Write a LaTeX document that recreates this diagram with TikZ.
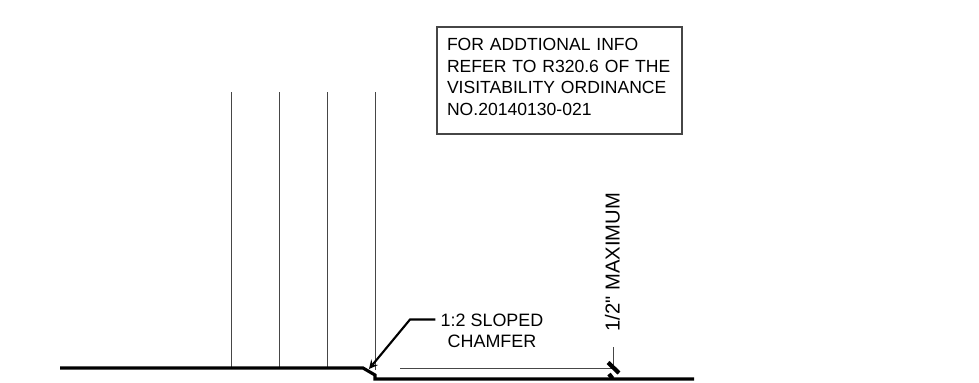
\documentclass[tikz,border=0pt]{standalone}
\usepackage{fontspec}
\setmainfont{Liberation Sans}
\newfontfamily\dimfont{Liberation Sans}
\definecolor{white}{rgb}{1.0, 1.0, 1.0}
\definecolor{black}{rgb}{0.0, 0.0, 0.0}
\definecolor{thingrey}{RGB}{70,70,70}
\pgfdeclarelayer{edgelayer}
\pgfdeclarelayer{nodelayer}
\pgfsetlayers{edgelayer,nodelayer,main}
\tikzstyle{note}=[draw=thingrey,line width=0.6pt,fill=white,align=left,text width=4.5cm,minimum height=2.14cm,inner xsep=0.2cm,inner ysep=0pt,font=\fontsize{10pt}{12.25pt}\selectfont]
\tikzstyle{callout}=[inner xsep=0.1cm,inner ysep=0pt,align=center,font=\fontsize{10.2pt}{12.25pt}\selectfont]
\tikzstyle{thin line}=[draw=thingrey,line width=0.5pt]
\tikzstyle{slab}=[draw=black,line width=1.8pt,line join=miter]
\tikzstyle{tick}=[draw=black,line width=2.4pt]
\tikzstyle{leader}=[draw=black,line width=1.2pt]
\begin{document}
\begin{tikzpicture}
        \useasboundingbox (0, 0) rectangle (19.58, 7.64);
        \begin{pgfonlayer}{nodelayer}
            \node [style = note] (info) at (11.19, 6.03) {FOR ADDTIONAL INFO\\REFER TO R320.6 OF THE\\VISITABILITY ORDINANCE\\NO.20140130-021\\[-0.29cm]\mbox{}};
            \node [style = callout] (chamfer) at (9.84, 1.02) {1:2 SLOPED\\CHAMFER};
            \node [style = callout, rotate=90, font=\fontsize{11.5pt}{13pt}\dimfont] (maximum) at (12.25, 2.40) {1/2" MAXIMUM};
        \end{pgfonlayer}

        \begin{pgfonlayer}{edgelayer}
            % studs
            \coordinate (s1t) at (4.62, 5.80);
            \coordinate (s1b) at (4.62, 0.28);
            \coordinate (s2t) at (5.58, 5.80);
            \coordinate (s2b) at (5.58, 0.28);
            \coordinate (s3t) at (6.54, 5.80);
            \coordinate (s3b) at (6.54, 0.28);
            \coordinate (s4t) at (7.50, 5.80);
            \coordinate (s4b) at (7.50, 0.24);
            \draw [style = thin line] (s1t) to (s1b);
            \draw [style = thin line] (s2t) to (s2b);
            \draw [style = thin line] (s3t) to (s3b);
            \draw [style = thin line] (s4t) to (s4b);

            % floor
            \coordinate (f1) at (1.20, 0.28);
            \coordinate (f2) at (7.26, 0.28);
            \coordinate (f3) at (7.50, 0.14);
            \coordinate (f4) at (7.50, 0.06);
            \coordinate (f5) at (13.88, 0.06);
            \draw [style = slab] (f1) -- (f2) -- (f3) -- (f4) -- (f5);

            % dimension
            \coordinate (d1) at (8.00, 0.27);
            \coordinate (d2) at (12.27, 0.27);
            \coordinate (d3) at (12.27, 0.70);
            \draw [style = thin line] (d1) to (d2);
            \draw [style = thin line] (d3) to (d2);
            \coordinate (t1) at (12.16, 0.39);
            \coordinate (t2) at (12.38, 0.18);
            \coordinate (t3) at (12.18, 0.16);
            \coordinate (t4) at (12.25, 0.07);
            \draw [style = tick] (t1) to (t2);
            \draw [style = tick] (t3) to (t4);

            % leader
            \coordinate (l1) at (8.20, 1.25);
            \coordinate (l2) at (7.38, 0.26);
            \draw [style = leader, -stealth] (chamfer.west |- l1) -- (l1) -- (l2);
        \end{pgfonlayer}
    \end{tikzpicture}
\end{document}
